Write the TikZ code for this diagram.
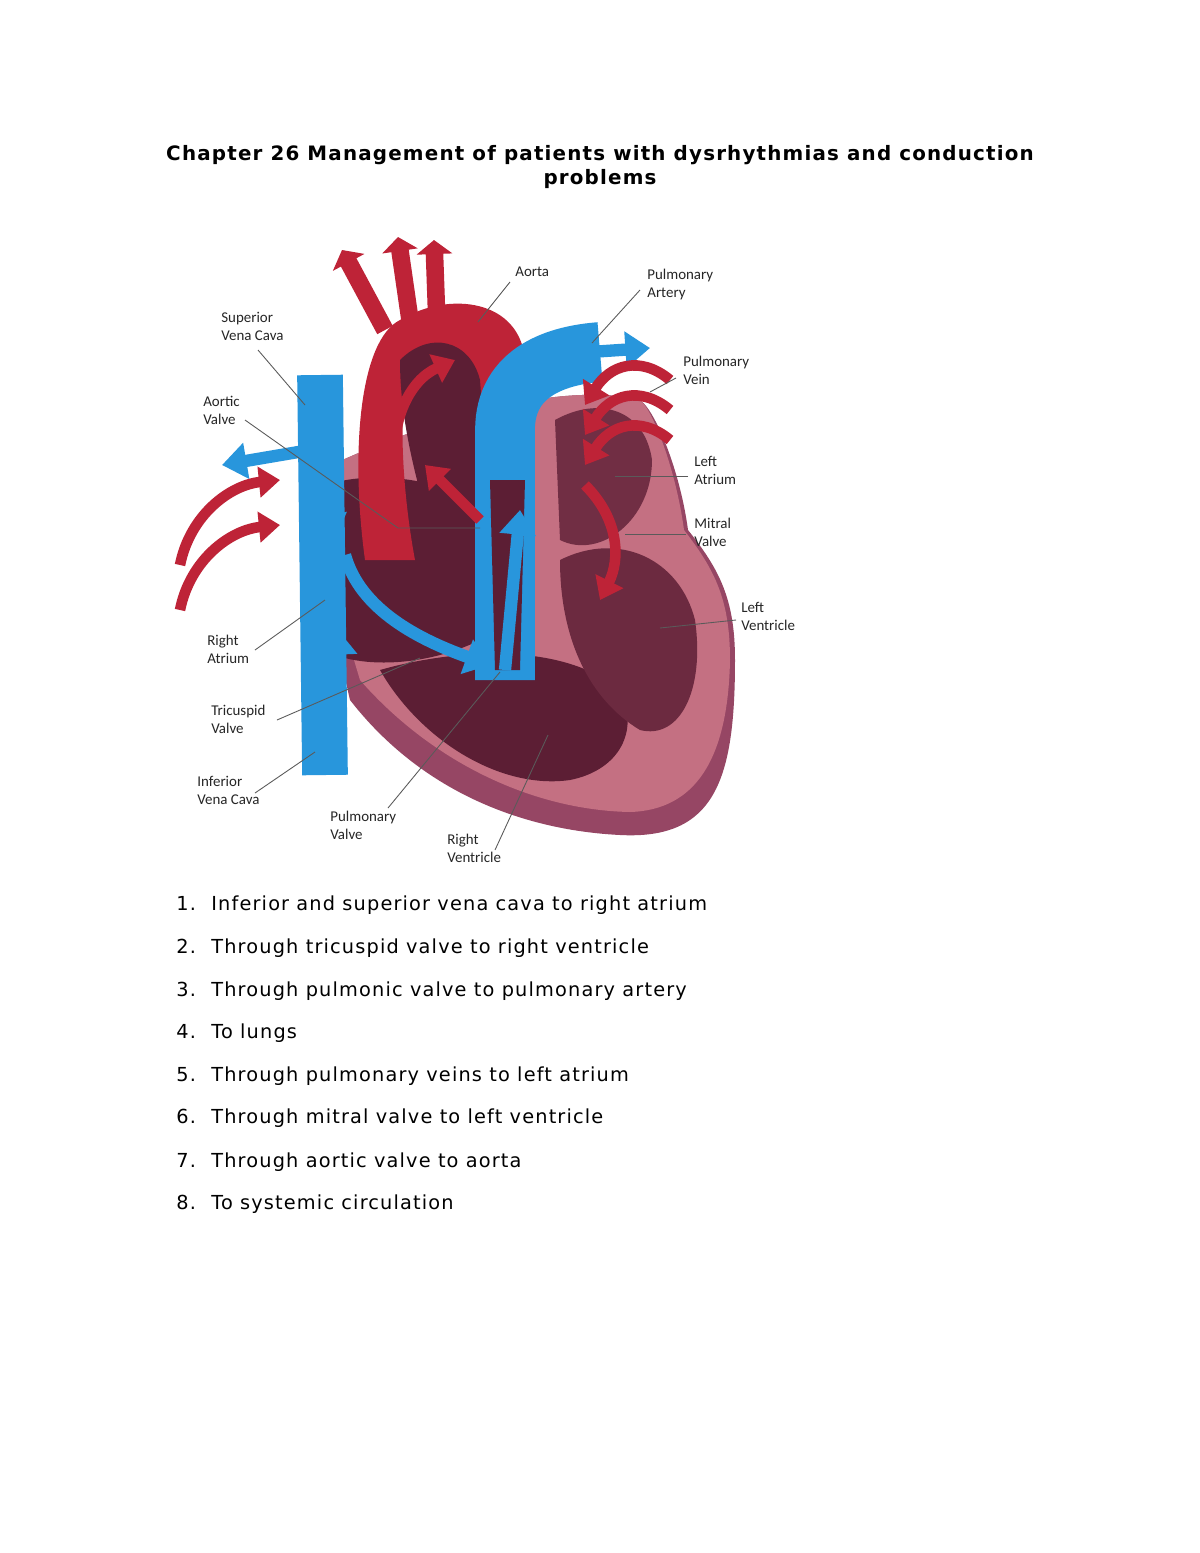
\documentclass[tikz,border=0pt]{standalone}
\usepackage{fontspec}
\setmainfont{DejaVu Sans}[LetterSpace=6]
\newfontfamily\lblfont{Carlito}
\usetikzlibrary{arrows.meta, positioning}
\definecolor{heartpink}{RGB}{196,112,130}
\definecolor{heartrim}{RGB}{150,70,100}
\definecolor{chamber}{RGB}{92,30,52}
\definecolor{bloodred}{RGB}{190,35,55}
\definecolor{veinblue}{RGB}{40,150,220}
\definecolor{leadgray}{RGB}{90,90,90}

\begin{document}
\begin{tikzpicture}[x=0.02cm, y=-0.02cm,
    lbl/.style={font=\lblfont\fontsize{8.5}{10}\selectfont, align=left, anchor=north west, inner sep=0pt, text=black!85},
    leader/.style={draw=leadgray, line width=0.5pt},
    bluearrow/.style={draw=veinblue, line width=7pt, -{Triangle[length=14pt,width=20pt]}},
    redarrow/.style={draw=bloodred, line width=6pt, -{Triangle[length=12pt,width=17pt]}},
    item/.style={font=\fontsize{11}{13}\selectfont, anchor=base west, inner sep=0pt}
]
    \useasboundingbox (0,0) rectangle (1200,1553);
    \fill[white] (0,0) rectangle (1200,1553);

    % title
    \node[font=\bfseries\fontsize{11.3}{14}\selectfont, align=center] (title) at (600,167)
        {Chapter 26 Management of patients with dysrhythmias and conduction\\problems};

    % heart body
    \fill[heartrim] (300,480) .. controls (420,420) and (560,380) .. (640,400)
        .. controls (655,410) and (680,470) .. (688,530)
        .. controls (720,570) and (735,600) .. (735,660)
        .. controls (735,780) and (715,840) .. (620,835)
        .. controls (520,830) and (420,790) .. (350,700) -- cycle;
    \fill[heartpink] (300,480) .. controls (420,420) and (560,380) .. (640,400)
        .. controls (653,410) and (676,470) .. (684,530)
        .. controls (715,570) and (730,600) .. (730,660)
        .. controls (728,760) and (695,810) .. (630,812)
        .. controls (530,810) and (430,760) .. (360,680) -- cycle;
    % chambers
    \fill[chamber] (300,500) .. controls (330,470) and (420,470) .. (470,500)
        -- (480,640) .. controls (420,670) and (340,670) .. (310,640) -- cycle;
    \fill[chamber] (380,670) .. controls (450,650) and (560,640) .. (620,690)
        .. controls (640,730) and (620,770) .. (570,780)
        .. controls (500,790) and (420,740) .. cycle;
    \fill[chamber!85!heartpink] (560,560) .. controls (620,530) and (680,560) .. (695,620)
        .. controls (705,690) and (680,740) .. (640,730)
        .. controls (590,700) and (560,640) .. cycle;
    \fill[chamber!80!heartpink] (555,420) .. controls (600,395) and (645,410) .. (652,460)
        .. controls (652,520) and (600,560) .. (560,540) -- cycle;

    % aorta
    \fill[bloodred] (365,560) .. controls (350,450) and (360,340) .. (400,320)
        .. controls (450,290) and (520,300) .. (525,360) -- (500,390)
        .. controls (490,340) and (450,330) .. (420,345)
        .. controls (395,370) and (400,480) .. (415,560) -- cycle;
    \fill[bloodred] (410,350) .. controls (470,300) and (520,330) .. (525,400) -- (480,480)
        .. controls (470,420) and (440,400) .. cycle;
    \fill[chamber] (400,360) .. controls (430,330) and (470,340) .. (480,380)
        -- (495,580) -- (440,560) .. controls (415,480) and (400,420) .. cycle;
    \foreach \bx/\by/\tx/\ty in {385/330/342/250, 410/320/398/237, 437/325/434/240}
        \draw[bloodred, line width=10pt, -{Triangle[length=8pt,width=20pt]}] (\bx,\by) -- (\tx,\ty);

    % pulmonary artery and vena cava
    \draw[veinblue, line width=34pt] (505,680) -- (505,430) .. controls (505,370) and (560,355) .. (600,352);
    \draw[bluearrow] (590,352) -- (650,348);
    \fill[chamber] (490,480) -- (525,480) -- (520,670) -- (495,670) -- cycle;
    \draw[veinblue, line width=26pt] (320,375) -- (325,775);
    \draw[bluearrow] (310,450) -- (222,465);

    % pulmonary veins
    \foreach \dy in {0,45}
        \draw[redarrow] (180,610-\dy) .. controls (190,560-\dy) and (230,530-\dy) .. (280,525-\dy);
    \foreach \dy in {0,30,60}
        \draw[redarrow] (670,440-\dy) .. controls (640,415-\dy) and (610,425-\dy) .. (585,465-\dy);

    % flow arrows
    \draw[redarrow] (395,470) .. controls (390,420) and (410,380) .. (455,360);
    \draw[redarrow] (480,520) -- (425,465);
    \draw[redarrow] (585,485) .. controls (620,520) and (620,560) .. (600,600);
    \draw[bluearrow] (320,480) -- (335,540);
    \draw[bluearrow] (345,555) .. controls (360,610) and (420,640) .. (490,665);
    \draw[bluearrow] (340,680) -- (338,630);
    \draw[bluearrow] (505,670) -- (520,510);

    % labels
    \node[lbl] (svc) at (221,312) {Superior\\Vena Cava};
    \node[lbl] (avl) at (203,396) {Aortic\\Valve};
    \node[lbl] (ao) at (515,267) {Aorta};
    \node[lbl] (pa) at (647,269) {Pulmonary\\Artery};
    \node[lbl] (pv) at (683,356) {Pulmonary\\Vein};
    \node[lbl] (la) at (694,456) {Left\\Atrium};
    \node[lbl] (mv) at (694,518) {Mitral\\Valve};
    \node[lbl] (lv) at (741,602) {Left\\Ventricle};
    \node[lbl] (ra) at (207,635) {Right\\Atrium};
    \node[lbl] (tv) at (211,705) {Tricuspid\\Valve};
    \node[lbl] (ivc) at (197,776) {Inferior\\Vena Cava};
    \node[lbl] (pvl) at (330,811) {Pulmonary\\Valve};
    \node[lbl] (rv) at (447,834) {Right\\Ventricle};

    \coordinate (svcP) at (305,405);
    \coordinate (avlK) at (398,528);
    \coordinate (avlP) at (480,528);
    \coordinate (aoP) at (478,322);
    \coordinate (paP) at (592,343);
    \coordinate (pvP) at (650,392);
    \coordinate (laP) at (615,476);
    \coordinate (mvP) at (625,534);
    \coordinate (lvP) at (660,628);
    \coordinate (raP) at (325,600);
    \coordinate (tvP) at (420,658);
    \coordinate (ivcP) at (315,752);
    \coordinate (pvlP) at (500,672);
    \coordinate (rvP) at (548,735);

    \draw[leader] (258,350) -- (svcP);
    \draw[leader] (245,420) -- (avlK) -- (avlP);
    \draw[leader] (510,282) -- (aoP);
    \draw[leader] (640,290) -- (paP);
    \draw[leader] (676,378) -- (pvP);
    \draw[leader] (688,476) -- (laP);
    \draw[leader] (686,534) -- (mvP);
    \draw[leader] (736,620) -- (lvP);
    \draw[leader] (255,650) -- (raP);
    \draw[leader] (277,720) -- (tvP);
    \draw[leader] (255,793) -- (ivcP);
    \draw[leader] (388,808) -- (pvlP);
    \draw[leader] (495,850) -- (rvP);

    % list
    \foreach \n/\y/\t in {1/910/Inferior and superior vena cava to right atrium,
        2/953/Through tricuspid valve to right ventricle,
        3/996/Through pulmonic valve to pulmonary artery,
        4/1038/To lungs,
        5/1081/Through pulmonary veins to left atrium,
        6/1123/Through mitral valve to left ventricle,
        7/1167/Through aortic valve to aorta,
        8/1209/To systemic circulation}
    {
        \node[item] (num\n) at (176,\y) {\n.};
        \node[item] (txt\n) at (211,\y) {\t};
    }
\end{tikzpicture}
\end{document}
